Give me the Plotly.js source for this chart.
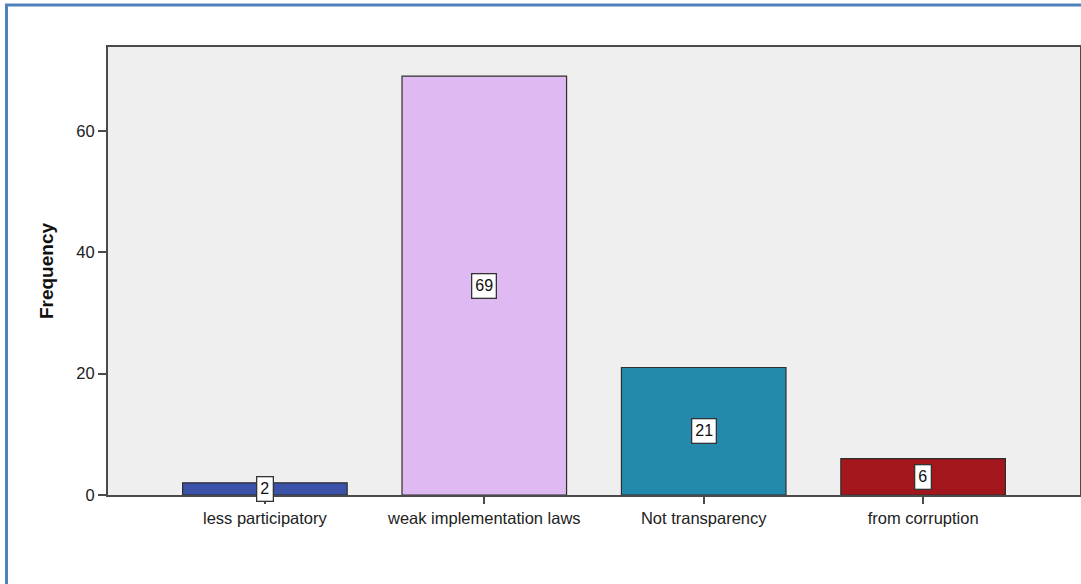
<!DOCTYPE html>
<html>
<head>
<meta charset="utf-8">
<script src="https://cdn.plot.ly/plotly-3.0.1.min.js"></script>
<style>
  html, body { margin: 0; padding: 0; background: #ffffff; }
  #chart { width: 1081px; height: 584px; }
</style>
</head>
<body>
<div id="chart"></div>
<script>
// Responses and their counts
const categories = ["less participatory", "weak implementation laws", "Not transparency", "from corruption"];
const frequencies = [2, 69, 21, 6];
const barColors = ["#3a53a8", "#dfb9f2", "#248aad", "#a3161b"];
const yTicks = [0, 20, 40, 60];

const bars = {
  type: "bar",
  x: categories,
  y: frequencies,
  width: 0.75,
  marker: { color: barColors, line: { color: "#2e2e2e", width: 1.2 } },
  hoverinfo: "skip"
};

// Value labels in white boxes at the middle of each bar
const valueLabels = categories.map((c, i) => ({
  x: c,
  y: frequencies[i] / 2,
  xref: "x",
  yref: "y",
  text: String(frequencies[i]),
  showarrow: false,
  bgcolor: "#ffffff",
  bordercolor: "#333333",
  borderwidth: 1.3,
  borderpad: 3,
  font: { family: "Liberation Sans, Arial, sans-serif", size: 16, color: "#111111" }
}));

const layout = {
  width: 1081,
  height: 584,
  margin: { l: 108, r: 1, t: 47, b: 89, pad: 0 },
  paper_bgcolor: "#ffffff",
  plot_bgcolor: "#efefef",
  showlegend: false,
  font: { family: "Liberation Sans, Arial, sans-serif", size: 16, color: "#222222" },
  xaxis: {
    type: "category",
    range: [-0.715, 3.715],
    showline: true,
    linecolor: "#4a4a4a",
    linewidth: 2,
    mirror: true,
    ticks: "outside",
    ticklen: 7,
    tickwidth: 2,
    tickcolor: "#4a4a4a",
    showgrid: false,
    zeroline: false,
    tickfont: { size: 16.5, color: "#222222" },
    fixedrange: true
  },
  yaxis: {
    range: [0, 73.8],
    tickvals: yTicks,
    ticktext: yTicks.map(String),
    showline: true,
    linecolor: "#4a4a4a",
    linewidth: 2,
    mirror: true,
    ticks: "outside",
    ticklen: 8,
    tickwidth: 2,
    tickcolor: "#4a4a4a",
    showgrid: false,
    zeroline: false,
    tickfont: { size: 16.5, color: "#222222" },
    title: {
      text: "<b>Frequency</b>",
      standoff: 18,
      font: { family: "Liberation Sans Narrow, Liberation Sans, Arial, sans-serif", size: 19, color: "#111111" }
    },
    fixedrange: true
  },
  annotations: valueLabels,
  // Blue frame along the left and top edges of the figure
  shapes: [
    {
      type: "path",
      xref: "paper", yref: "paper",
      path: "M -0.1044 -0.25 L -0.1044 1.0938 L 1.02 1.0938",
      line: { color: "#4f81bd", width: 3 }
    }
  ]
};

Plotly.newPlot("chart", [bars], layout, { displayModeBar: false, staticPlot: true });
</script>
</body>
</html>
